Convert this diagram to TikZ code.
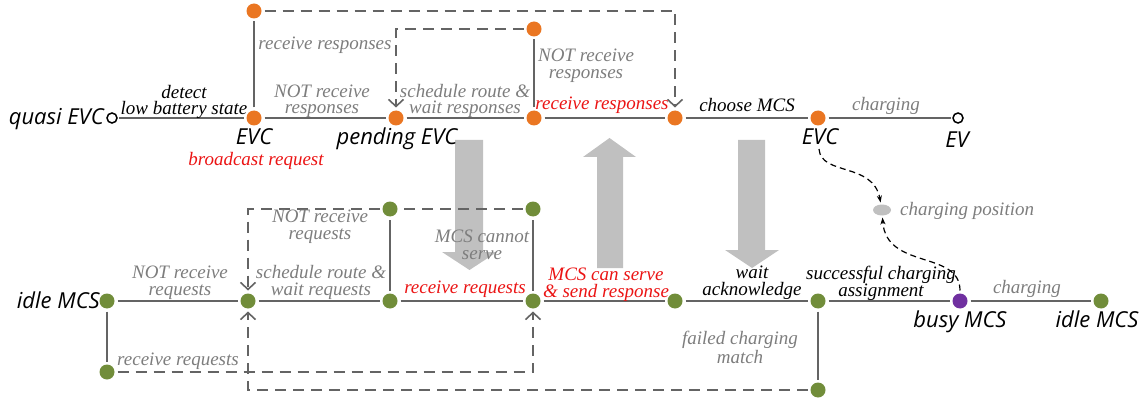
\documentclass[tikz,border=0pt]{standalone}
\usepackage{fontspec}
\setmainfont{Liberation Serif}
\newfontfamily\lblfont{Liberation Serif}
\newfontfamily\nodefont{Open Sans}
\usetikzlibrary{arrows.meta,shapes.geometric}
\definecolor{orng}{RGB}{234,118,34}
\definecolor{grn}{RGB}{113,141,58}
\definecolor{purp}{RGB}{112,48,160}
\definecolor{lgray}{RGB}{100,100,100}
\definecolor{tgray}{RGB}{125,125,125}
\definecolor{agray}{RGB}{192,192,192}
\definecolor{rd}{RGB}{235,20,20}
\tikzset{
  dot/.style={circle,inner sep=0pt,minimum size=15pt,outer sep=3pt},
  odot/.style={dot,fill=orng},
  gdot/.style={dot,fill=grn},
  pdot/.style={dot,fill=purp},
  ocirc/.style={circle,draw=black,line width=1.5pt,inner sep=0pt,minimum size=10pt,outer sep=2pt},
  edge/.style={draw=lgray,line width=2pt},
  dedge/.style={draw=lgray,line width=2pt,dash pattern=on 11pt off 7pt},
  barb/.style={-{Straight Barb[length=7pt,width=15pt,line width=1.6pt]}},
  curv/.style={draw=black,line width=1.2pt,dash pattern=on 6pt off 4pt,-{Stealth[length=7pt,width=5pt]}},
  lbl/.style={font=\lblfont\itshape\fontsize{19}{17}\selectfont,text=tgray,align=center,inner sep=0pt,anchor=base},
  blbl/.style={lbl,text=black},
  rlbl/.style={lbl,text=rd},
  nlbl/.style={font=\nodefont\itshape\fontsize{22}{24}\selectfont,text=black,inner sep=0pt,anchor=base},
  bigarrow/.style={fill=agray,draw=none}
}
\begin{document}
\begin{tikzpicture}[x=1pt,y=-1pt]
\useasboundingbox (0,0) rectangle (1143,401);
% big gray arrows
\fill[bigarrow] (455,140)--(483,140)--(483,252)--(497,252)--(469.5,270)--(442,252)--(455,252)--cycle;
\fill[bigarrow] (597,268)--(623,268)--(623,157)--(636,157)--(609.5,138)--(583,157)--(597,157)--cycle;
\fill[bigarrow] (738,140)--(765,140)--(765,250)--(779,250)--(752,268)--(725,250)--(738,250)--cycle;
% top row nodes
\node[ocirc] (qevc) at (112,118) {};
\node[odot] (evc1) at (254,118) {};
\node[odot] (t1) at (254,11) {};
\node[odot] (pend) at (396,118) {};
\node[odot] (t2) at (534,29) {};
\node[odot] (r1) at (534,118) {};
\node[odot] (r2) at (675,118) {};
\node[odot] (evc2) at (818,118) {};
\node[ocirc] (ev) at (958,118) {};
% bottom row nodes
\node[gdot] (idle) at (107,301) {};
\node[gdot] (b1) at (248,301) {};
\node[gdot] (b2) at (390,301) {};
\node[gdot] (bt2) at (390,209) {};
\node[gdot] (bt3) at (533,209) {};
\node[gdot] (b3) at (533,301) {};
\node[gdot] (b4) at (675,301) {};
\node[gdot] (b5) at (818,301) {};
\node[gdot] (b6) at (818,390) {};
\node[pdot] (busy) at (960,301) {};
\node[gdot] (idle2) at (1101,301) {};
\node[gdot] (ib) at (107,372) {};
\node[ellipse,fill=agray,minimum width=18pt,minimum height=11pt,inner sep=0pt,outer sep=2pt] (cp) at (882,210) {};
% solid edges
\draw[edge] (qevc) -- (evc1);
\draw[edge] (evc1) -- (pend);
\draw[edge] (evc1) -- (t1);
\draw[edge] (pend) -- (r1);
\draw[edge] (r1) -- (t2);
\draw[edge] (r1) -- (r2);
\draw[edge] (r2) -- (evc2);
\draw[edge] (evc2) -- (ev);
\draw[edge] (idle) -- (b1);
\draw[edge] (idle) -- (ib);
\draw[edge] (b1) -- (b2);
\draw[edge] (b2) -- (bt2);
\draw[edge] (b2) -- (b3);
\draw[edge] (b3) -- (bt3);
\draw[edge] (b3) -- (b4);
\draw[edge] (b4) -- (b5);
\draw[edge] (b5) -- (b6);
\draw[edge] (b5) -- (busy);
\draw[edge] (busy) -- (idle2);
% dashed edges
\draw[dedge,barb] (t1) -| (r2);
\draw[dedge,barb] (t2) -| (pend);
\draw[dedge] (bt3) -- (bt2);
\draw[dedge,barb] (bt2) -| (b1);
\draw[dedge,barb] (ib) -| (b3);
\draw[dedge,barb] (b6) -| (b1);
% curved arrows
\coordinate (c1) at (819,149);
\draw[curv] (c1) .. controls (821,176) and (873,162) .. (cp);
\draw[curv] (busy) .. controls (960,250) and (886,270) .. (cp);
% node labels
\node[nlbl,anchor=base east] at (104,125) {quasi EVC};
\node[nlbl] at (254,145) {EVC};
\node[rlbl] at (256,165) {broadcast request};
\node[nlbl] at (397,145) {pending EVC};
\node[nlbl] at (820,145) {EVC};
\node[nlbl] at (957,147) {EV};
\node[nlbl,anchor=base east] at (100,308) {idle MCS};
\node[nlbl] at (960,327) {busy MCS};
\node[nlbl] at (1097,327) {idle MCS};
% edge labels top (anchor = baseline of last line)
\node[blbl] at (184,115) {detect\\low battery state};
\node[lbl] at (322,114) {NOT receive\\responses};
\node[lbl] at (325,50) {receive responses};
\node[lbl] at (465,114) {schedule route \&\\wait responses};
\node[lbl] at (586,79) {NOT receive\\responses};
\node[rlbl] at (602,110) {receive responses};
\node[blbl] at (747,112) {choose MCS};
\node[lbl] at (886,111) {charging};
% edge labels bottom
\node[lbl] at (180,295) {NOT receive\\requests};
\node[lbl] at (321,295) {schedule route \&\\wait requests};
\node[lbl] at (320,239) {NOT receive\\requests};
\node[lbl] at (482,259) {MCS cannot\\serve};
\node[rlbl] at (465,293) {receive requests};
\node[rlbl] at (606,297) {MCS can serve\\\& send response};
\node[blbl] at (752,295) {wait\\acknowledge};
\node[blbl] at (881,296) {successful charging\\assignment};
\node[lbl] at (1027,293) {charging};
\node[lbl] at (740,363) {failed charging\\match};
\node[lbl] at (178,365) {receive requests};
\node[lbl,anchor=base west] at (900,215) {charging position};
\end{tikzpicture}
\end{document}
